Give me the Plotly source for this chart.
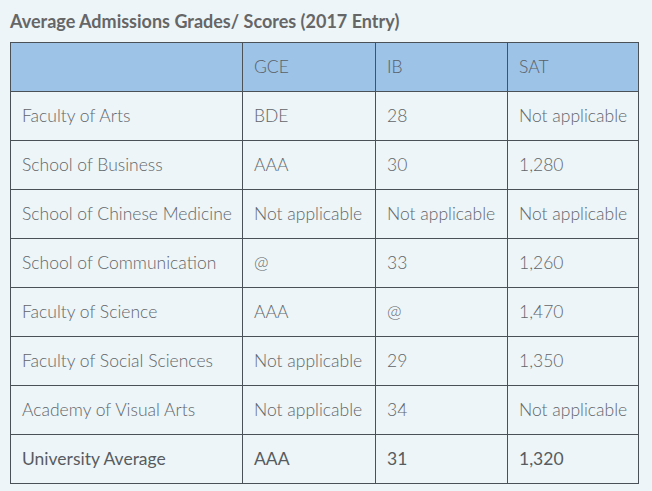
import plotly.graph_objects as go

W, H = 652, 491

# table data
header = ["", "GCE", "IB", "SAT"]
faculties = [
    "Faculty of Arts",
    "School of Business",
    "School of Chinese Medicine",
    "School of Communication",
    "Faculty of Science",
    "Faculty of Social Sciences",
    "Academy of Visual Arts",
]
gce = ["BDE", "AAA", "Not applicable", "@", "AAA", "Not applicable", "Not applicable"]
ib = ["28", "30", "Not applicable", "33", "@", "29", "34"]
sat = ["Not applicable", "1,280", "Not applicable", "1,260", "1,470", "1,350", "Not applicable"]
# summary row, drawn in a heavier weight
average = ["University Average", "AAA", "31", "1,320"]

BG = "#edf5f8"
HEAD = "#9dc3e6"
LINE = "#4b5257"
CLEAR = "rgba(0,0,0,0)"
colw = [232, 133, 132, 131]
FS = 17.5

x0, x1 = 10, 638
y0, y_avg, y1 = 42, 434, 483
ROW = 49
dx, dy = 4, 10  # text offset inside the cells


def dom(xa, xb, ya, yb):
    return dict(x=[xa / W, xb / W], y=[1 - yb / H, 1 - ya / H])


fig = go.Figure()

# grid: fills and lines only (a little extra room so the bottom rule shows)
n = len(faculties) + 1
fig.add_trace(
    go.Table(
        columnwidth=colw,
        domain=dom(x0, x1, y0, y1 + 4),
        header=dict(values=[""] * 4, fill_color=HEAD,
                    line=dict(color=LINE, width=1), height=ROW),
        cells=dict(values=[[""] * n for _ in range(4)], fill_color=BG,
                   line=dict(color=LINE, width=1), height=ROW),
    )
)

# text layer for header and body rows
fig.add_trace(
    go.Table(
        columnwidth=colw,
        domain=dom(x0 + dx, x1 + dx, y0 + dy, y_avg + dy),
        header=dict(
            values=header, fill_color=CLEAR, line=dict(color=CLEAR, width=0),
            align="left", height=ROW,
            font=dict(family="Lato", size=FS, color="#5a6066", weight=300),
        ),
        cells=dict(
            values=[faculties, gce, ib, sat], fill_color=CLEAR,
            line=dict(color=CLEAR, width=0), align="left", height=ROW,
            font=dict(family="Lato", size=FS, color="#62666a", weight=300),
        ),
    )
)

# text layer for the average row
fig.add_trace(
    go.Table(
        columnwidth=colw,
        domain=dom(x0 + dx, x1 + dx, y_avg + dy, y_avg + dy + 42),
        header=dict(
            values=average, fill_color=CLEAR, line=dict(color=CLEAR, width=0),
            align="left", height=42,
            font=dict(family="Lato", size=FS, color="#585c60", weight=400),
        ),
        cells=dict(values=[[] for _ in average], height=42),
    )
)

fig.add_annotation(
    text="<b>Average Admissions Grades/ Scores (2017 Entry)</b>",
    xref="paper", yref="paper",
    x=7 / W, y=1 - 21 / H,
    xanchor="left", yanchor="middle",
    showarrow=False,
    font=dict(family="Lato", size=18, color="#666666"),
)

fig.update_layout(
    width=W, height=H,
    margin=dict(l=0, r=0, t=0, b=0),
    paper_bgcolor=BG,
    plot_bgcolor=BG,
)

fig.write_html(
    "out.html",
    config={"displayModeBar": False},
    post_script="document.body.style.margin='0';",
)
